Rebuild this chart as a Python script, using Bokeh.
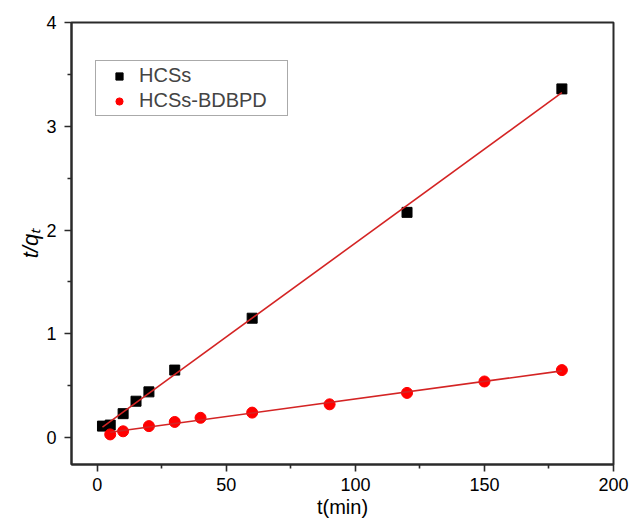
import numpy as np
from bokeh.plotting import figure
from bokeh.models import Range1d, FixedTicker, Legend, LegendItem
from bokeh.embed import file_html
from bokeh.resources import INLINE

# data
t_hcs = [2, 5, 10, 15, 20, 30, 60, 120, 180]
q_hcs = [0.11, 0.12, 0.23, 0.35, 0.44, 0.65, 1.15, 2.17, 3.36]
t_bd = [5, 10, 20, 30, 40, 60, 90, 120, 150, 180]
q_bd = [0.03, 0.06, 0.11, 0.15, 0.19, 0.24, 0.32, 0.43, 0.54, 0.65]

x_ticks = [0, 50, 100, 150, 200]
x_minor = [25, 75, 125, 175]
y_ticks = [0, 1, 2, 3, 4]
y_minor = [0.5, 1.5, 2.5, 3.5]

FONT = "Liberation Sans"

p = figure(width=632, height=520, output_backend="svg", toolbar_location=None,
           x_range=Range1d(-10, 200), y_range=Range1d(-0.26, 4.0),
           min_border_left=71, min_border_right=19, min_border_top=22, min_border_bottom=56)
p.background_fill_color = "white"
p.border_fill_color = "white"
p.xgrid.visible = False
p.ygrid.visible = False
p.outline_line_color = "#2a2a2a"
p.outline_line_width = 2
p.outline_line_alpha = 1

# linear fits (derived from data)
def fit_line(t, q):
    a, b = np.polyfit(t, q, 1)
    xs = np.array([min(t), max(t)])
    return xs, a * xs + b

fx1, fy1 = fit_line(t_hcs, q_hcs)
fx2, fy2 = fit_line(t_bd, q_bd)

r1 = p.scatter(t_hcs, q_hcs, marker="square", size=10, color="black")
r2 = p.scatter(t_bd, q_bd, marker="circle", size=11, color="#ff0000")
p.line(fx1, fy1, line_color="#d42424", line_width=1.6)
p.line(fx2, fy2, line_color="#d42424", line_width=1.6)

for ax, ticks, minor in ((p.xaxis[0], x_ticks, x_minor), (p.yaxis[0], y_ticks, y_minor)):
    ax.ticker = FixedTicker(ticks=ticks, minor_ticks=minor)
    ax.axis_line_width = 2
    ax.axis_line_color = "#2a2a2a"
    ax.major_tick_line_color = "#2a2a2a"
    ax.major_tick_line_width = 1.6
    ax.minor_tick_line_color = "#2a2a2a"
    ax.minor_tick_line_width = 1.6
    ax.major_tick_out = 7
    ax.major_tick_in = 0
    ax.minor_tick_out = 4
    ax.minor_tick_in = 0
    ax.major_label_text_font = FONT
    ax.major_label_text_font_size = "18px"
    ax.major_label_text_color = "black"
    ax.axis_label_text_font = FONT
    ax.axis_label_text_color = "black"

p.xaxis.axis_label = "t(min)"
p.xaxis.axis_label_text_font_size = "20px"
p.xaxis.axis_label_text_font_style = "normal"
p.xaxis.major_label_standoff = 6
p.xaxis.axis_label_standoff = 2

p.yaxis.axis_label = "t/qₜ"
p.yaxis.axis_label_text_font_size = "22px"
p.yaxis.axis_label_text_font_style = "italic"
p.yaxis.major_label_standoff = 8
p.yaxis.axis_label_standoff = 0

legend = Legend(items=[LegendItem(label="HCSs", renderers=[r1]),
                       LegendItem(label="HCSs-BDBPD", renderers=[r2])],
                location=(24, 348), margin=0, padding=3, spacing=2,
                glyph_width=40, glyph_height=18, label_height=18, label_standoff=0,
                label_width=145,
                label_text_font=FONT, label_text_font_size="20px",
                border_line_color="#555555", border_line_width=1.2,
                background_fill_alpha=1)
p.add_layout(legend, "center")

open("out.html", "w").write(file_html(p, INLINE))
